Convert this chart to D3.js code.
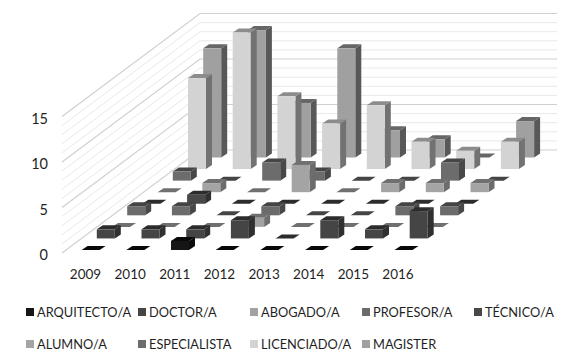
<!DOCTYPE html>
<html>
<head>
<meta charset="utf-8">
<script src="https://cdn.jsdelivr.net/npm/d3@7"></script>
<style>
    html, body { margin: 0; padding: 0; background: #fff; }
    text { font-family: Lato, "Open Sans", sans-serif; fill: #1f1f1f; }
</style>
</head>
<body>
<div id="chart"></div>
<script>
var years = ["2009", "2010", "2011", "2012", "2013", "2014", "2015", "2016"];
var series = ["ARQUITECTO/A", "DOCTOR/A", "ABOGADO/A", "PROFESOR/A", "TÉCNICO/A", "ALUMNO/A", "ESPECIALISTA", "LICENCIADO/A", "MAGISTER"];
var yTicks = [0, 5, 10, 15];

var arquitecto = [0, 0, 1, 0, 0, 0, 0, 0];
var doctor = [1, 1, 1, 2, 0, 2, 1, 3];
var abogado = [0, 0, 0, 1, 0, 0, 0, 0];
var profesor = [1, 1, 0, 1, 0, 0, 1, 1];
var tecnico = [0, 1, 0, 0, 0, 0, 0, 0];
var alumno = [0, 1, 0, 3, 0, 1, 1, 1];
var especialista = [1, 0, 2, 1, 0, 0, 2, 0];
var licenciado = [10, 15, 8, 5, 7, 3, 2, 3];
var magister = [12, 14, 6, 12, 3, 2, 0, 4];

var values = [arquitecto, doctor, abogado, profesor, tecnico, alumno, especialista, licenciado, magister];

// front, top, side
var frontColors = ["#161616", "#454545", "#a2a2a2", "#6b6b6b", "#484848", "#a4a4a4", "#6c6c6c", "#d3d3d3", "#a0a0a0"];
var topColors = ["#080808", "#2c2c2c", "#707070", "#444444", "#2c2c2c", "#707070", "#454545", "#8c8c8c", "#666666"];
var sideColors = ["#0c0c0c", "#303030", "#6e6e6e", "#484848", "#303030", "#6c6c6c", "#484848", "#727272", "#585858"];

var svg = d3.select("#chart").append("svg")
    .attr("width", 580)
    .attr("height", 356);

//scales
var barW = 18, depthX = 6, depthY = 4;

var yearX = d3.scalePoint().domain(years).range([81.6, 394.5]);
var rowX = d3.scalePoint().domain(series).range([0, 121.6]);
var rowY = d3.scalePoint().domain(series).range([250, 157.5]);
var h = d3.scaleLinear().domain([0, 15]).range([0, 136.5]);

//the two walls
var unitTicks = d3.range(0, 16);
var wall = svg.append("g");

function gridColor(v) {
    return v % 5 == 0 ? "#d0d0d0" : "#e9e9e9";
}

wall.selectAll("polyline")
    .data(unitTicks)
    .enter()
    .append("polyline")
    .attr("fill", "none")
    .attr("stroke", gridColor)
    .attr("stroke-width", function (d) {
        return d % 5 == 0 ? 1.2 : 1;
    })
    .attr("points", function (d) {
        return [
            [62, 253 - h(d)],
            [200, 150 - h(d)],
            [557, 150 - h(d)]
        ].join(" ");
    });

//bars, back row first
var rows = svg.append("g").selectAll("g")
    .data(series.slice().reverse())
    .enter()
    .append("g");

rows.each(function (name) {
    var s = series.indexOf(name);
    var row = d3.select(this);

    years.forEach(function (year, i) {
        var v = values[s][i];
        var x0 = yearX(year) + rowX(name);
        var y0 = rowY(name);
        var yt = y0 - h(v);
        var bar = row.append("g");

        //flat cells only have the top
        if (v > 0) {
            bar.append("polygon")
                .attr("fill", sideColors[s])
                .attr("points", [
                    [x0 + barW, y0],
                    [x0 + barW + depthX, y0 - depthY],
                    [x0 + barW + depthX, yt - depthY],
                    [x0 + barW, yt]
                ].join(" "));
        }

        bar.append("polygon")
            .attr("fill", topColors[s])
            .attr("points", [
                [x0, yt],
                [x0 + barW, yt],
                [x0 + barW + depthX, yt - depthY],
                [x0 + depthX, yt - depthY]
            ].join(" "));

        if (v > 0) {
            bar.append("rect")
                .attr("x", x0)
                .attr("y", yt)
                .attr("width", barW)
                .attr("height", h(v))
                .attr("fill", frontColors[s]);
        }
    });
});

//y-axis
var yAxisScale = d3.scaleLinear().domain([0, 15]).range([255, 119]);
var yAxisCall = d3.axisLeft(yAxisScale).tickValues(yTicks).tickSize(0).tickPadding(0);
var yAxis = svg.append("g")
    .attr("transform", "translate(48,0)")
    .call(yAxisCall);
yAxis.select(".domain").remove();
yAxis.selectAll("text").style("font-size", "14.5px").style("font-family", null);

//x-axis
var xLabels = d3.scalePoint().domain(years).range([85, 397.5]);
var xAxisCall = d3.axisBottom(xLabels).tickSize(0).tickPadding(0);
var xAxis = svg.append("g")
    .attr("transform", "translate(0,269)")
    .call(xAxisCall);
xAxis.select(".domain").remove();
xAxis.selectAll("text").style("font-size", "13.5px").style("font-family", null);

//legend
var legend = svg.append("g").selectAll("g")
    .data(series)
    .enter()
    .append("g")
    .attr("transform", function (d, i) {
        return "translate(" + (26 + 112 * (i % 5)) + "," + (i < 5 ? 308 : 340) + ")";
    });

legend.append("rect")
    .attr("width", 8)
    .attr("height", 8)
    .attr("fill", function (d, i) {
        return frontColors[i];
    });

legend.append("text")
    .attr("x", 11)
    .attr("y", 9)
    .style("font-size", "12.8px")
    .text(function (d) {
        return d;
    });
</script>
</body>
</html>
